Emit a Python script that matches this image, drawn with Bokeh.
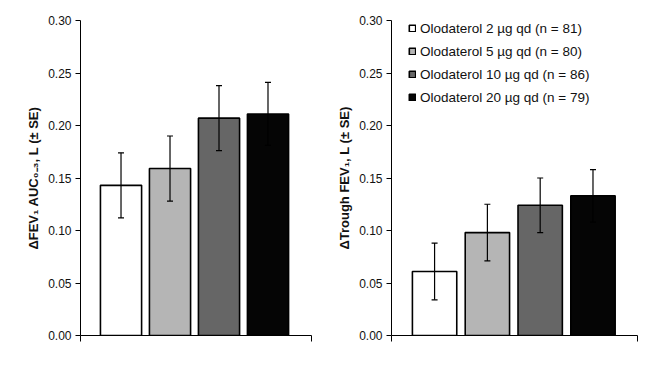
from bokeh.plotting import figure
from bokeh.layouts import row
from bokeh.models import (ColumnDataSource, Whisker, Range1d, FixedTicker, Legend, LegendItem,
                          CustomJSTickFormatter)
from bokeh.embed import file_html
from bokeh.resources import INLINE

groups = ["Olodaterol 2 \u00b5g qd (n = 81)", "Olodaterol 5 \u00b5g qd (n = 80)",
          "Olodaterol 10 \u00b5g qd (n = 86)", "Olodaterol 20 \u00b5g qd (n = 79)"]
colors = ["#ffffff", "#b5b5b5", "#666666", "#050505"]
xpos = [1, 2, 3, 4]

auc_mean = [0.143, 0.159, 0.207, 0.211]
auc_se = [0.031, 0.031, 0.031, 0.030]
trough_mean = [0.061, 0.098, 0.124, 0.133]
trough_se = [0.027, 0.027, 0.026, 0.025]

yticks = [0.0, 0.05, 0.10, 0.15, 0.20, 0.25, 0.30]

FONT = "Liberation Sans"


def make_panel(means, ses, ylabel, width, h, bl, br, bt, bb, xr, legend=False):
    p = figure(width=width, height=h, output_backend="svg", toolbar_location=None,
               x_range=Range1d(*xr), y_range=Range1d(0, 0.30),
               min_border_left=bl, min_border_right=br, min_border_top=bt, min_border_bottom=bb)
    p.outline_line_color = None
    p.xgrid.grid_line_color = None
    p.ygrid.grid_line_color = None
    p.background_fill_color = "white"
    src = ColumnDataSource(dict(x=xpos, top=means, color=colors,
                                upper=[m + s for m, s in zip(means, ses)],
                                lower=[m - s for m, s in zip(means, ses)]))
    renderers = []
    for i in range(4):
        r = p.vbar(x=[xpos[i]], top=[means[i]], width=0.84, bottom=0,
                   fill_color=colors[i], line_color="#000000", line_width=1.6)
        renderers.append(r)
    w = Whisker(base="x", upper="upper", lower="lower", source=src,
                line_color="black", line_width=1.2, level="overlay")
    w.upper_head.size = 6
    w.lower_head.size = 6
    w.upper_head.line_width = 1.2
    w.lower_head.line_width = 1.2
    p.add_layout(w)

    p.yaxis.ticker = FixedTicker(ticks=yticks)
    p.yaxis.formatter = CustomJSTickFormatter(code="return tick.toFixed(2);")
    p.yaxis.major_label_text_font = FONT
    p.yaxis.major_label_text_font_size = "12px"
    p.yaxis.major_label_text_color = "#111111"
    p.yaxis.major_tick_in = 0
    p.yaxis.major_tick_out = 5
    p.yaxis.minor_tick_line_color = None
    p.yaxis.axis_line_color = "black"
    p.yaxis.axis_label = ylabel
    p.yaxis.axis_label_text_font = FONT
    p.yaxis.axis_label_text_font_style = "bold"
    p.yaxis.axis_label_text_font_size = "13px"
    p.yaxis.axis_label_text_color = "#111111"
    p.yaxis.axis_label_standoff = 4
    p.yaxis.major_label_standoff = 4

    p.xaxis.ticker = FixedTicker(ticks=[xr[0], xr[1]])
    p.xaxis.major_label_overrides = {xr[0]: "", xr[1]: ""}
    p.xaxis.major_tick_in = 0
    p.xaxis.major_tick_out = 6
    p.xaxis.minor_tick_line_color = None
    p.xaxis.axis_line_color = "black"

    if legend:
        items = [LegendItem(label=groups[i], renderers=[renderers[i]]) for i in range(4)]
        lg = Legend(items=items, location=(17, 228))
        lg.label_text_font = FONT
        lg.label_text_font_size = "13.5px"
        lg.label_text_color = "#111111"
        lg.glyph_width = 8
        lg.glyph_height = 8
        lg.label_height = 20
        lg.spacing = 3
        lg.padding = 0
        lg.margin = 0
        lg.label_standoff = 4
        lg.border_line_color = None
        lg.background_fill_alpha = 0
        p.add_layout(lg)
    return p


left = make_panel(auc_mean, auc_se, "\u0394FEV\u2081 AUC\u2080\u208b\u2083, L (\u00b1 SE)",
                  328, 367, 80, 17, 20, 32, (0.173, 4.888))
right = make_panel(trough_mean, trough_se, "\u0394Trough FEV\u2081, L (\u00b1 SE)",
                   336, 367, 63, 27, 16, 31, (0.184, 4.843), legend=True)

p = row(left, right)
open("out.html", "w").write(file_html(p, INLINE))
